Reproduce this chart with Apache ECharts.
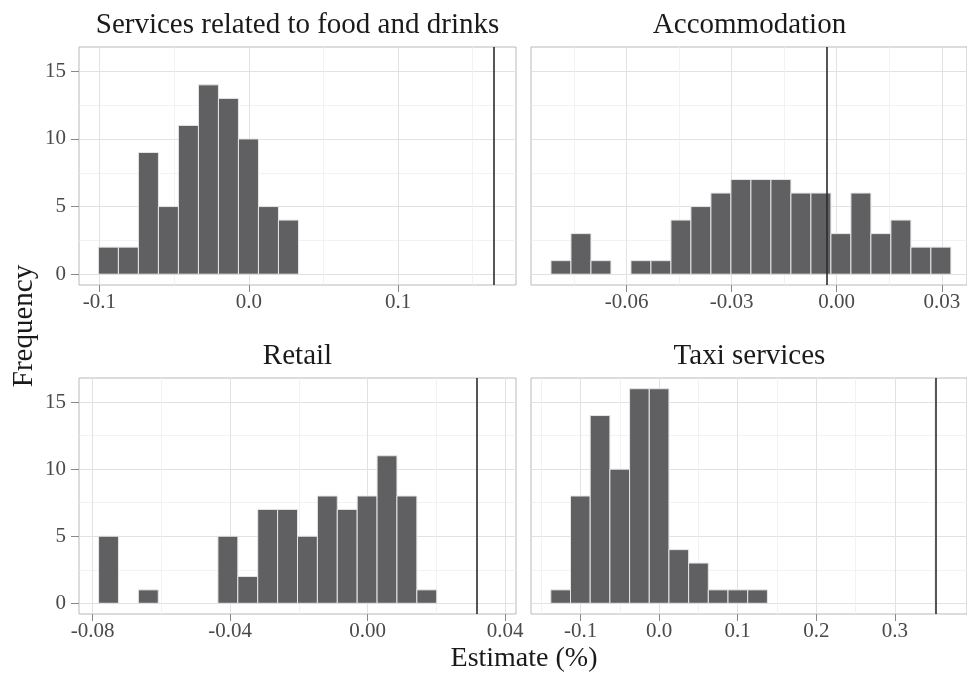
<!DOCTYPE html>
<html>
<head>
<meta charset="utf-8">
<script src="https://cdn.jsdelivr.net/npm/echarts@6/dist/echarts.min.js"></script>
<style>
  html, body { margin: 0; padding: 0; background: #fff; }
  #chart { width: 967px; height: 676px; }
</style>
</head>
<body>
<div id="chart"></div>
<script>
// panel titles
const panelNames = ["Services related to food and drinks", "Accommodation", "Retail", "Taxi services"];
// histogram counts per bin
const foodCounts = [2, 2, 9, 5, 11, 14, 13, 10, 5, 4];
const accomCounts = [1, 3, 1, 0, 1, 1, 4, 5, 6, 7, 7, 7, 6, 6, 3, 6, 3, 4, 2, 2];
const retailCounts = [5, 0, 1, 0, 0, 0, 5, 2, 7, 7, 5, 8, 7, 8, 11, 8, 1];
const taxiCounts = [1, 8, 14, 10, 16, 16, 4, 3, 1, 1, 1];
// left edge of the first bin, and bin width
const binStarts = [-0.1007, -0.0816, -0.0783, -0.1378];
const binWidths = [0.0134, 0.00571, 0.00579, 0.02505];
// the estimate shown as a vertical line
const estimates = [0.1644, -0.0029, 0.0318, 0.3517];
// x ranges and ticks for each panel (free scales)
const xMins = [-0.1137, -0.0873, -0.084, -0.163];
const xMaxs = [0.179, 0.0372, 0.0432, 0.3917];
const xMajors = [[-0.1, 0, 0.1], [-0.06, -0.03, 0, 0.03], [-0.08, -0.04, 0, 0.04], [-0.1, 0, 0.1, 0.2, 0.3]];
const xMinors = [[-0.05, 0.05, 0.15], [-0.075, -0.045, -0.015, 0.015], [-0.06, -0.02, 0.02], [-0.15, -0.05, 0.05, 0.15, 0.25, 0.35]];
const xDigits = [1, 2, 2, 1];
// shared y scale
const yMajors = [0, 5, 10, 15];
const yMinors = [2.5, 7.5, 12.5];

const allCounts = [foodCounts, accomCounts, retailCounts, taxiCounts];
const fontName = "Liberation Serif";

function binData(k) {
  let out = [];
  allCounts[k].forEach(function (c, i) {
    if (c > 0) out.push([binStarts[k] + i * binWidths[k], binStarts[k] + (i + 1) * binWidths[k], c]);
  });
  return out;
}

function renderBin(params, api) {
  let p0 = api.coord([api.value(0), api.value(2)]),
    p1 = api.coord([api.value(1), 0]);
  return {
    type: "rect",
    shape: { x: p0[0], y: p0[1], width: p1[0] - p0[0], height: p1[1] - p0[1] },
    style: { fill: "#606062", stroke: "#e6e6e6", lineWidth: 1 }
  };
}

let myChart = echarts.init(document.getElementById("chart"), null, { renderer: "canvas" });
// right column runs past the picture edge, as in the source image
let grids = [
  { left: 79, top: 47, width: 437, height: 238 },
  { left: 531, top: 47, width: 440, height: 238 },
  { left: 79, top: 378, width: 437, height: 236 },
  { left: 531, top: 378, width: 440, height: 236 }
].map(function (g) {
  return Object.assign({ show: true, borderColor: "#b9b9b9", borderWidth: 1, backgroundColor: "#fff" }, g);
});

let xAxes = [], yAxes = [], series = [], graphics = [];
for (let k = 0; k < 4; k++) {
  // main x axis: labelled ticks + major grid
  xAxes.push({
    type: "value", gridIndex: k, min: xMins[k], max: xMaxs[k], position: "bottom",
    axisLine: { show: false, onZero: false },
    axisTick: { show: true, length: 7, customValues: xMajors[k], lineStyle: { color: "#888", width: 1 } },
    axisLabel: {
      customValues: xMajors[k], margin: 7, color: "#4a4a4a", fontFamily: fontName, fontSize: 21,
      formatter: (v) => v.toFixed(xDigits[k])
    },
    splitLine: { show: true, lineStyle: { color: "#e2e2e2", width: 1 } }
  });
  // second x axis, minor grid only
  xAxes.push({
    type: "value", gridIndex: k, min: xMins[k], max: xMaxs[k], position: "bottom",
    axisLine: { show: false, onZero: false }, axisLabel: { show: false },
    axisTick: { show: false, customValues: xMinors[k] },
    splitLine: { show: true, lineStyle: { color: "#efefef", width: 0.8 } }
  });
  let leftCol = k % 2 === 0;
  yAxes.push({
    type: "value", gridIndex: k, min: -0.8, max: 16.8, position: "left",
    axisLine: { show: false, onZero: false },
    axisTick: { show: leftCol, length: 8, customValues: yMajors, lineStyle: { color: "#888", width: 1 } },
    axisLabel: { show: leftCol, customValues: yMajors, margin: 13, color: "#4a4a4a", fontFamily: fontName, fontSize: 21 },
    splitLine: { show: true, lineStyle: { color: "#e2e2e2", width: 1 } }
  });
  yAxes.push({
    type: "value", gridIndex: k, min: -0.8, max: 16.8, position: "left",
    axisLine: { show: false, onZero: false }, axisLabel: { show: false },
    axisTick: { show: false, customValues: yMinors },
    splitLine: { show: true, lineStyle: { color: "#efefef", width: 0.8 } }
  });

  series.push({
    type: "custom", name: panelNames[k],
    xAxisIndex: 2 * k, yAxisIndex: 2 * k,
    renderItem: renderBin,
    encode: { x: [0, 1], y: 2 },
    data: binData(k),
    silent: true,
    markLine: {
      silent: true, symbol: "none", precision: 6, label: { show: false },
      lineStyle: { color: "#2b2b2b", width: 1.6, type: "solid" },
      data: [{ xAxis: estimates[k] }]
    }
  });

  let g = grids[k];
  graphics.push({
    type: "text",
    style: {
      x: (k % 2 === 0 ? g.left + g.width / 2 : g.left + 437 / 2), y: g.top - 22, text: panelNames[k],
      font: "29px '" + fontName + "'", fill: "#1a1a1a", textAlign: "center", textVerticalAlign: "middle"
    }
  });
}

graphics.push({
  type: "text",
  style: { x: 524, y: 659, text: "Estimate (%)", font: "28px '" + fontName + "'", fill: "#1a1a1a", textAlign: "center", textVerticalAlign: "middle" }
});
graphics.push({
  type: "text", rotation: Math.PI / 2, x: 24, y: 326,
  style: { x: 0, y: 0, text: "Frequency", font: "29px '" + fontName + "'", fill: "#1a1a1a", textAlign: "center", textVerticalAlign: "middle" }
});

let option = {
  animation: false,
  backgroundColor: "#fff",
  grid: grids,
  xAxis: xAxes,
  yAxis: yAxes,
  series: series,
  graphic: graphics
};
if (option && typeof option === "object") myChart.setOption(option);
window.addEventListener("resize", function () {
  myChart.resize();
});
</script>
</body>
</html>
